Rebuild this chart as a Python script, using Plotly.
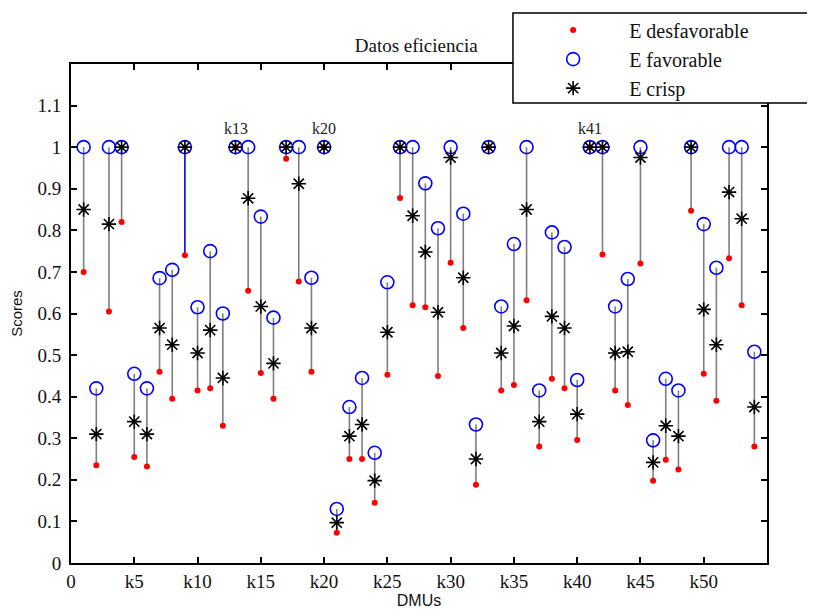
import plotly.graph_objects as go

dmu = list(range(1, 55))
e_desfav = [0.70, 0.235, 0.605, 0.82, 0.255, 0.232, 0.46, 0.395, 0.74, 0.415,
            0.42, 0.33, 1.0, 0.655, 0.457, 0.395, 0.972, 0.677, 0.46, 1.0,
            0.073, 0.25, 0.25, 0.145, 0.453, 0.878, 0.62, 0.615, 0.45, 0.722,
            0.565, 0.188, 1.0, 0.415, 0.428, 0.632, 0.28, 0.443, 0.42, 0.296,
            1.0, 0.742, 0.415, 0.38, 0.72, 0.198, 0.248, 0.225, 0.847, 0.455,
            0.39, 0.733, 0.62, 0.28]
e_fav = [1.0, 0.42, 1.0, 1.0, 0.455, 0.42, 0.685, 0.705, 1.0, 0.615,
         0.75, 0.60, 1.0, 1.0, 0.833, 0.59, 1.0, 1.0, 0.686, 1.0,
         0.13, 0.375, 0.445, 0.265, 0.675, 1.0, 1.0, 0.913, 0.805, 1.0,
         0.84, 0.333, 1.0, 0.617, 0.767, 1.0, 0.415, 0.795, 0.76, 0.44,
         1.0, 1.0, 0.617, 0.683, 1.0, 0.295, 0.443, 0.415, 1.0, 0.815,
         0.71, 1.0, 1.0, 0.508]
e_crisp = [0.85, 0.31, 0.815, 1.0, 0.34, 0.31, 0.565, 0.525, 1.0, 0.505,
           0.56, 0.445, 1.0, 0.877, 0.617, 0.48, 1.0, 0.912, 0.565, 1.0,
           0.097, 0.305, 0.333, 0.198, 0.555, 1.0, 0.835, 0.748, 0.603, 0.975,
           0.686, 0.25, 1.0, 0.505, 0.57, 0.85, 0.34, 0.593, 0.565, 0.358,
           1.0, 1.0, 0.505, 0.508, 0.975, 0.242, 0.33, 0.305, 1.0, 0.61,
           0.525, 0.892, 0.828, 0.375]
blue_line_dmus = [9]
labelled_dmus = [13, 20, 41]

x_tickvals = [0, 5, 10, 15, 20, 25, 30, 35, 40, 45, 50]
x_ticktext = ["0", "k5", "k10", "k15", "k20", "k25", "k30", "k35", "k40", "k45", "k50"]
y_tickvals = [0, 0.1, 0.2, 0.3, 0.4, 0.5, 0.6, 0.7, 0.8, 0.9, 1.0, 1.1]

SERIF = "Liberation Serif"
SANS = "Liberation Sans"

fig = go.Figure()

# connecting lines
gx, gy, bx, by = [], [], [], []
for d, lo, hi in zip(dmu, e_desfav, e_fav):
    if d in blue_line_dmus:
        bx += [d, d, None]; by += [lo, hi, None]
    else:
        gx += [d, d, None]; gy += [lo, hi, None]
fig.add_trace(go.Scatter(x=gx, y=gy, mode="lines", line=dict(color="#7f7f7f", width=1.6),
                         showlegend=False, hoverinfo="skip"))
fig.add_trace(go.Scatter(x=bx, y=by, mode="lines", line=dict(color="#0000ff", width=1.6),
                         showlegend=False, hoverinfo="skip"))

fig.add_trace(go.Scatter(x=dmu, y=e_desfav, mode="markers", name="E desfavorable",
                         marker=dict(symbol="circle", color="#ff0000", size=6, line=dict(width=0))))
fig.add_trace(go.Scatter(x=dmu, y=e_fav, mode="markers", name="E favorable",
                         marker=dict(symbol="circle-open", color="#0000ff", size=13,
                                     line=dict(width=1.6, color="#0000ff"))))
fig.add_trace(go.Scatter(x=dmu, y=e_crisp, mode="markers", name="E crisp",
                         marker=dict(symbol="asterisk-open", color="#000000", size=12,
                                     line=dict(width=1.6, color="#000000"))))

for d in labelled_dmus:
    fig.add_annotation(x=d, y=e_fav[d - 1] + 0.046, text="k%d" % d, showarrow=False,
                       font=dict(family=SERIF, size=16, color="#222"), xanchor="center", yanchor="middle")

# legend box
fig.add_shape(type="rect", xref="paper", yref="paper", x0=0.635, x1=1.1, y0=0.922, y1=1.102,
              line=dict(color="black", width=1.5), fillcolor="white", layer="above")

fig.update_layout(
    width=815, height=610,
    margin=dict(l=63, r=56, t=56, b=55, autoexpand=False),
    paper_bgcolor="white", plot_bgcolor="white",
    title=dict(text="Datos eficiencia", x=0.496, xref="paper", xanchor="center",
               y=1 - 37 / 610, yref="container", yanchor="middle",
               font=dict(family=SERIF, size=19, color="#111")),
    legend=dict(x=0.641, y=1.107, xanchor="left", yanchor="top", bgcolor="rgba(0,0,0,0)",
                borderwidth=0, itemwidth=102, font=dict(family=SERIF, size=20, color="#111")),
    showlegend=True,
)
fig.update_xaxes(range=[0, 55], tickvals=x_tickvals, ticktext=x_ticktext, ticks="inside", ticklen=6,
                 tickwidth=1.5, tickcolor="black", showline=True, linecolor="black", linewidth=2,
                 mirror="ticks", showgrid=False, zeroline=False,
                 tickfont=dict(family=SERIF, size=19, color="#111"),
                 title=dict(text="DMUs", font=dict(family=SANS, size=16, color="#111"), standoff=4))
fig.update_yaxes(range=[0, 1.2], tickvals=y_tickvals, ticks="inside", ticklen=6,
                 tickwidth=1.5, tickcolor="black", showline=True, linecolor="black", linewidth=2,
                 mirror="ticks", showgrid=False, zeroline=False, ticklabelstandoff=4,
                 tickfont=dict(family=SERIF, size=19, color="#111"),
                 title=dict(text="Scores", font=dict(family=SANS, size=15, color="#111"), standoff=12))

fig.write_html("out.html")
